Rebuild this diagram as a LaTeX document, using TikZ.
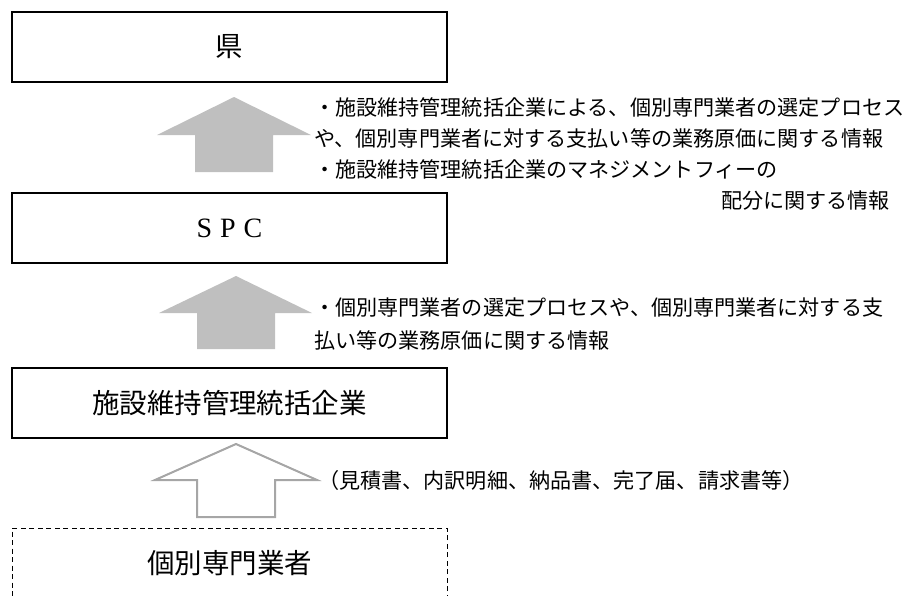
\documentclass[tikz,border=0pt]{standalone}
\usepackage{fontspec}
\setmainfont{Liberation Serif}
\newfontfamily\jpfont{Noto Sans CJK JP}
\definecolor{arrowgray}{HTML}{BFBFBF}
\definecolor{hollowgray}{HTML}{A6A6A6}
\begin{document}
\begin{tikzpicture}[x=1pt,y=-1pt,
  box/.style={draw=black, line width=1.1pt, minimum width=435pt, minimum height=70pt, inner sep=0pt, font=\jpfont\fontsize{27.5}{30}\selectfont},
  dbox/.style={draw=black, line width=0.8pt, dash pattern=on 5pt off 3.5pt, minimum width=435pt, minimum height=70pt, inner sep=0pt, font=\jpfont\fontsize{27.5}{30}\selectfont},
  anno/.style={inner sep=0pt, font=\jpfont\fontsize{21.1}{24}\selectfont},
  solidarrow/.style={fill=arrowgray, draw=none},
  hollowarrow/.style={draw=hollowgray, line width=2pt, fill=white, line join=miter}]
\useasboundingbox (0,0) rectangle (911,595);
% boxes
\node[box] (ken) at (229.5,47) {県};
\node[box] (spc) at (229.5,228) {{\rmfamily\fontsize{28}{30}\selectfont S\hspace{8pt}P\hspace{8pt}C}};
\node[box] (tokatsu) at (229.5,403) {施設維持管理統括企業};
\node[dbox] (kobetsu) at (229.5,563) {個別専門業者};
% block arrows
\coordinate (t1) at (234,97);
\path[solidarrow] (t1) -- ++(77,38) -- ++(-38,0) -- ++(0,37) -- ++(-78,0) -- ++(0,-37) -- ++(-38,0) -- cycle;
\coordinate (t2) at (236,276);
\path[solidarrow] (t2) -- ++(76,37) -- ++(-37,0) -- ++(0,36) -- ++(-78,0) -- ++(0,-36) -- ++(-38,0) -- cycle;
\coordinate (t3) at (236,444);
\path[hollowarrow] (t3) -- ++(81,36) -- ++(-42,0) -- ++(0,37) -- ++(-78,0) -- ++(0,-37) -- ++(-42,0) -- cycle;
% annotations
\node[anno, anchor=base west] (a1) at (314,115) {・施設維持管理統括企業による、個別専門業者の選定プロセス};
\node[anno, anchor=base west] (a2) at (314,146) {や、個別専門業者に対する支払い等の業務原価に関する情報};
\node[anno, anchor=base west] (a3) at (314,177) {・施設維持管理統括企業のマネジメントフィーの};
\node[anno, anchor=base east] (a4) at (890,208) {配分に関する情報};
\node[anno, anchor=base west] (b1) at (314,315) {・個別専門業者の選定プロセスや、個別専門業者に対する支};
\node[anno, anchor=base west] (b2) at (314,348) {払い等の業務原価に関する情報};
\node[anno, anchor=base west] (c1) at (318,488) {（見積書、内訳明細、納品書、完了届、請求書等）};
\end{tikzpicture}
\end{document}
